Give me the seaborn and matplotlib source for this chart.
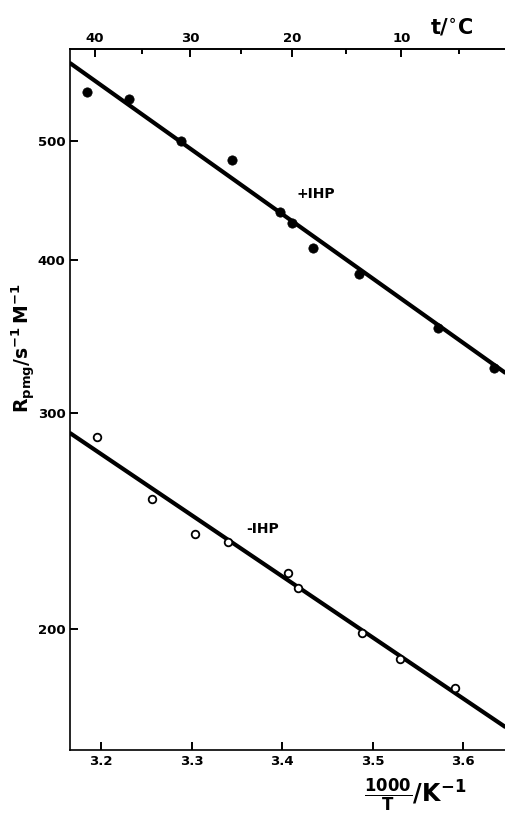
import numpy as np
import pandas as pd
import matplotlib
matplotlib.use("Agg")
import matplotlib.pyplot as plt
import matplotlib.ticker as mticker
import seaborn as sns

# values
plus_x = [3.1849, 3.2306, 3.2880, 3.3446, 3.3976, 3.4105, 3.4337, 3.4851, 3.5723, 3.6341]
plus_r = [548.2, 540.4, 500.0, 482.3, 437.6, 428.7, 409.0, 389.1, 351.6, 326.5]

minus_x = [3.1959, 3.2560, 3.3038, 3.3405, 3.4061, 3.4178, 3.4884, 3.5297, 3.5907]
minus_r = [287.0, 255.3, 238.9, 235.5, 222.2, 216.1, 198.5, 189.1, 179.0]

# fitted straight lines (ends at the axis limits)
fit_x = [3.1661, 3.646]
fit_plus = [578.2, 323.6]
fit_minus = [288.8, 166.5]

x_ticks = [3.2, 3.3, 3.4, 3.5, 3.6]
y_ticks = [200, 300, 400, 500]
t_major = [40, 30, 20, 10]
t_minor = [35, 25, 15, 5]

sns.set_style("ticks")
plt.rcParams["font.family"] = ["DejaVu Sans"]
plt.rcParams["font.weight"] = "bold"
plt.rcParams["mathtext.default"] = "bf"
for key in ["text.color", "axes.labelcolor", "xtick.color", "ytick.color", "axes.edgecolor"]:
    plt.rcParams[key] = "black"

fig = plt.figure(figsize=(5.05, 8.14), dpi=100)
ax = fig.add_axes([70.3 / 505, 64 / 814, 1 - 70.3 / 505, 701 / 814])

plus_df = pd.DataFrame({"x": plus_x, "r": plus_r})
minus_df = pd.DataFrame({"x": minus_x, "r": minus_r})

sns.lineplot(x=fit_x, y=fit_plus, color="black", lw=3.0, ax=ax)
sns.lineplot(x=fit_x, y=fit_minus, color="black", lw=3.0, ax=ax)
sns.scatterplot(data=plus_df, x="x", y="r", color="black", s=45,
                edgecolor="black", linewidth=0.5, ax=ax, zorder=3)
sns.scatterplot(data=minus_df, x="x", y="r", facecolor="white", s=30,
                edgecolor="black", linewidth=1.3, ax=ax, zorder=3)

ax.set_yscale("log")
ax.set_xlim(3.1661, 3.646)
ax.set_ylim(159.4, 593.9)
ax.yaxis.set_major_locator(mticker.FixedLocator(y_ticks))
ax.yaxis.set_major_formatter(mticker.FixedFormatter([str(v) for v in y_ticks]))
ax.yaxis.set_minor_locator(mticker.NullLocator())
ax.set_xticks(x_ticks)
ax.set_xticklabels([f"{v:.1f}" for v in x_ticks])

for s in ["left", "bottom", "top"]:
    ax.spines[s].set_linewidth(1.2)
ax.spines["right"].set_visible(False)
ax.tick_params(direction="in", length=6, width=1.4, labelsize=9.5)
ax.set_xlabel("")
ax.set_ylabel("")

# temperature axis on top
secax = ax.secondary_xaxis("top", functions=(lambda x: 1000.0 / x - 273.15,
                                             lambda t: 1000.0 / (t + 273.15)))
secax.set_xticks(t_major)
secax.set_xticklabels([str(v) for v in t_major])
secax.set_xticks(t_minor, minor=True)
secax.tick_params(which="major", direction="in", length=6, width=1.4,
                  labelsize=9.5, pad=3)
secax.tick_params(which="minor", direction="in", length=3.5, width=1.4)
secax.spines["top"].set_linewidth(1.2)

ax.text(3.4373, 452.4, "+IHP", fontsize=10, fontweight="bold",
        ha="center", va="center")
ax.text(3.3788, 241.3, "-IHP", fontsize=10, fontweight="bold",
        ha="center", va="center")

fig.text(452 / 505, 1 - 27 / 814, r"t/$^{\circ}$C", fontsize=15,
         fontweight="bold", ha="center", va="center")
fig.text(24 / 505, 1 - 348 / 814, r"$R_{pmg}/s^{-1}\,M^{-1}$", fontsize=13.5,
         rotation=90, ha="center", va="center")
fig.text(415 / 505, 1 - 795 / 814, r"$\frac{1000}{T}/K^{-1}$", fontsize=17,
         ha="center", va="center")

fig.savefig("out.png", dpi=100)
